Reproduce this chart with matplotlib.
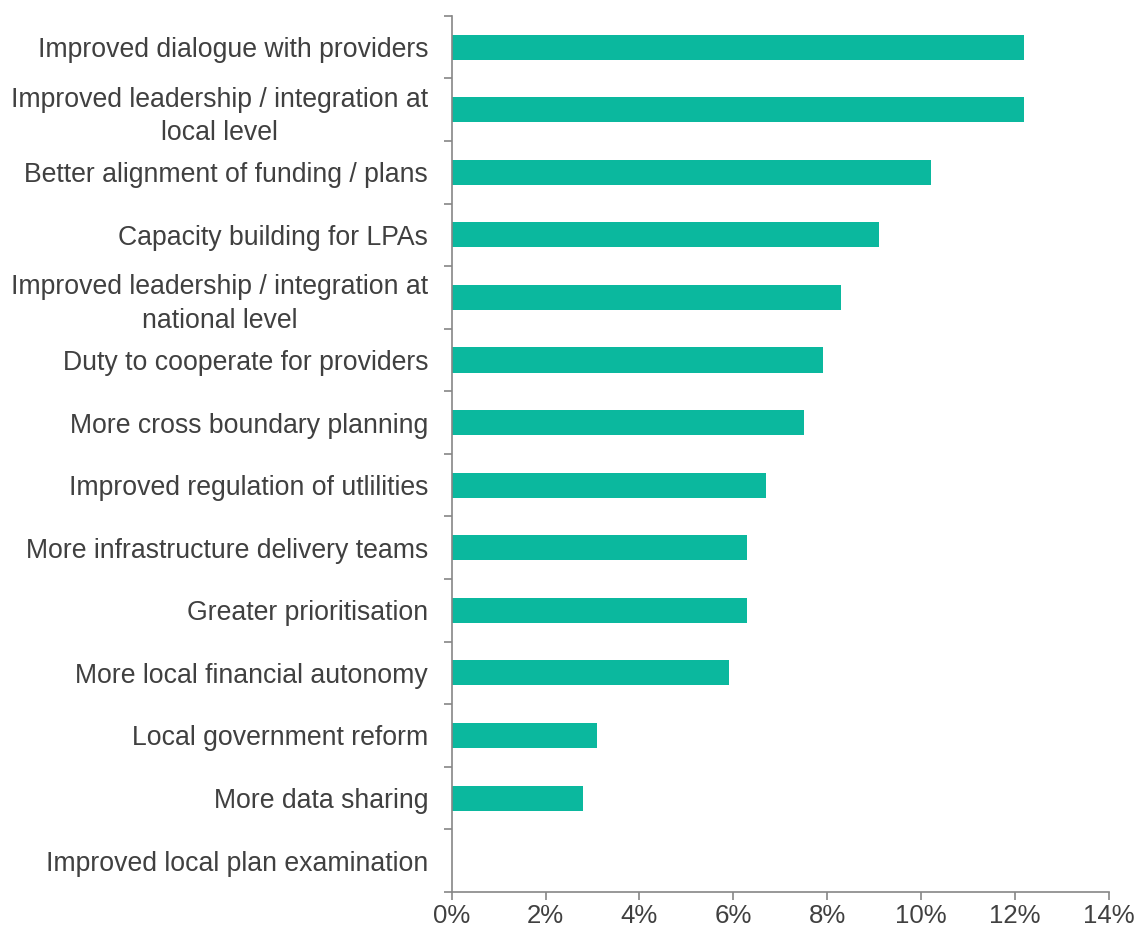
import numpy as np
import matplotlib.pyplot as plt
from matplotlib.ticker import FixedLocator, PercentFormatter

plt.rcParams['font.family'] = ['Liberation Sans', 'DejaVu Sans']

# Survey responses, top to bottom
categories = [
    'Improved dialogue with providers',
    'Improved leadership / integration at\nlocal level',
    'Better alignment of funding / plans',
    'Capacity building for LPAs',
    'Improved leadership / integration at\nnational level',
    'Duty to cooperate for providers',
    'More cross boundary planning',
    'Improved regulation of utlilities',
    'More infrastructure delivery teams',
    'Greater prioritisation',
    'More local financial autonomy',
    'Local government reform',
    'More data sharing',
    'Improved local plan examination',
]
shares = [12.2, 12.2, 10.2, 9.1, 8.3, 7.9, 7.5, 6.7, 6.3, 6.3, 5.9, 3.1, 2.8, 0.0]
x_ticks = [0, 2, 4, 6, 8, 10, 12, 14]

text_col = '#404040'
axis_col = '#868686'
bar_col = '#0BB89E'

fig = plt.figure(figsize=(11.35, 9.31), dpi=100)
ax = fig.add_axes([0.398, 0.042, 0.579, 0.941])

n = len(categories)
y = np.arange(n)
ax.barh(y, shares, height=0.4, color=bar_col)

ax.set_ylim(n - 0.5, -0.5)
ax.set_xlim(0, 14)

ax.set_yticks(y)
ax.set_yticklabels(categories, multialignment='center', linespacing=1.38)
ax.yaxis.set_minor_locator(FixedLocator(np.arange(n + 1) - 0.5))
ax.tick_params(axis='y', which='major', length=0, pad=17,
               labelsize=19.2, labelcolor=text_col)
ax.tick_params(axis='y', which='minor', length=6, width=1.2, color=axis_col)

ax.set_xticks(x_ticks)
ax.xaxis.set_major_formatter(PercentFormatter(decimals=0))
ax.tick_params(axis='x', length=6, width=1.2, color=axis_col, pad=3,
               labelsize=18.6, labelcolor=text_col)

for side in ['top', 'right']:
    ax.spines[side].set_visible(False)
for side in ['left', 'bottom']:
    ax.spines[side].set_color(axis_col)
    ax.spines[side].set_linewidth(1.2)

fig.savefig('out.png', dpi=100)
